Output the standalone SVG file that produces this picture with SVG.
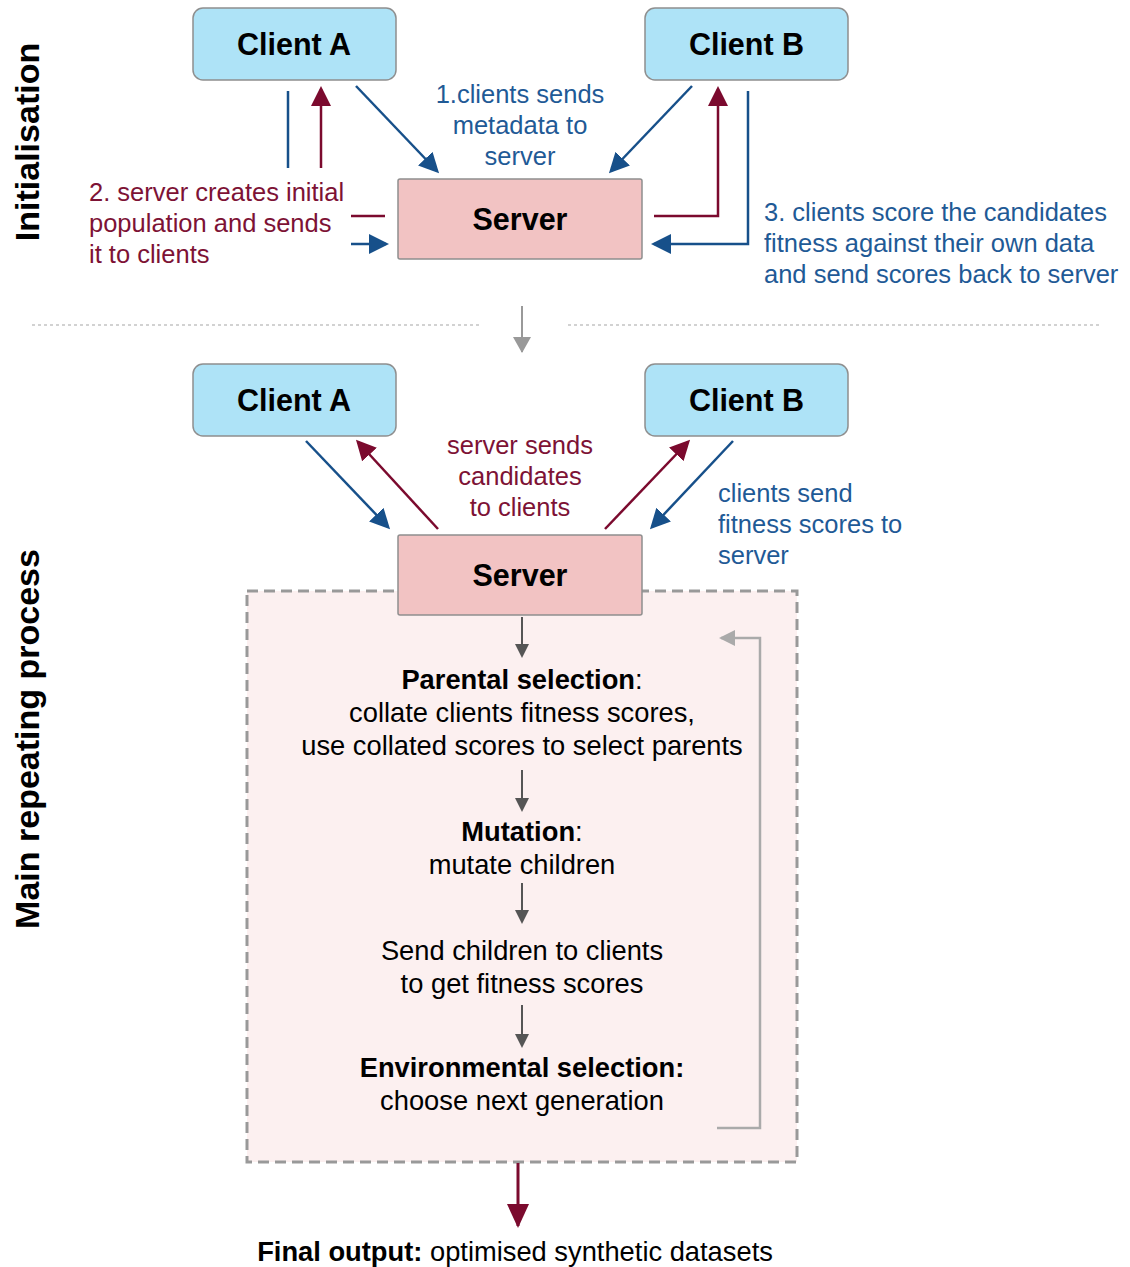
<svg xmlns="http://www.w3.org/2000/svg" width="1130" height="1267" viewBox="0 0 1130 1267">
<defs>
<style>
text{font-family:"Liberation Sans",Arial,sans-serif}
.client{fill:#aee3f7;stroke:#8f8f8f;stroke-width:1.5}
.server{fill:#f2c3c3;stroke:#8f8f8f;stroke-width:1.5}
.nt{font-size:30.5px;font-weight:bold;fill:#000;text-anchor:middle}
.lb{font-size:25.5px}
.blt{fill:#1f5a96}
.rdt{fill:#7d1235}
.pt{font-size:27.3px;fill:#000;text-anchor:middle}
.b{font-weight:bold}
.side{font-size:34px;font-weight:bold;fill:#000;text-anchor:middle}
.bl{stroke:#17508a;stroke-width:2.5;fill:none}
.rd{stroke:#7b0a2e;stroke-width:2.5;fill:none}
.gy{stroke:#555;stroke-width:2;fill:none}
</style>
<marker id="hb" markerUnits="userSpaceOnUse" markerWidth="20" markerHeight="20" refX="17" refY="10" orient="auto"><path d="M0,0 L20,10 L0,20 z" fill="#17508a"/></marker>
<marker id="hr" markerUnits="userSpaceOnUse" markerWidth="20" markerHeight="20" refX="17" refY="10" orient="auto"><path d="M0,0 L20,10 L0,20 z" fill="#7b0a2e"/></marker>
<marker id="hg" markerUnits="userSpaceOnUse" markerWidth="14" markerHeight="14" refX="12" refY="7" orient="auto"><path d="M0,0 L14,7 L0,14 z" fill="#555"/></marker>
<marker id="hl" markerUnits="userSpaceOnUse" markerWidth="18" markerHeight="18" refX="15" refY="9" orient="auto"><path d="M0,0 L16,9 L0,18 z" fill="#999"/></marker>
<marker id="hl2" markerUnits="userSpaceOnUse" markerWidth="18" markerHeight="18" refX="14" refY="8" orient="auto"><path d="M0,0 L16,8 L0,16 z" fill="#aaa"/></marker>
<marker id="hrb" markerUnits="userSpaceOnUse" markerWidth="24" markerHeight="24" refX="22" refY="11" orient="auto"><path d="M0,0 L24,11 L0,22 z" fill="#7b0a2e"/></marker>
</defs>
<rect width="1130" height="1267" fill="#fff"/>

<!-- side labels -->
<text class="side" transform="translate(39,142) rotate(-90)">Initialisation</text>
<text class="side" transform="translate(39,739) rotate(-90)">Main repeating process</text>

<!-- separator -->
<g id="separator">
<line x1="32" y1="325" x2="482" y2="325" stroke="#c4c4c4" stroke-width="1.5" stroke-dasharray="3,3"/>
<line x1="568" y1="325" x2="1100" y2="325" stroke="#c4c4c4" stroke-width="1.5" stroke-dasharray="3,3"/>
</g>

<!-- loop container -->
<g id="loop-box">
<rect x="247" y="591" width="550" height="571" fill="#fcf0f0" stroke="#999" stroke-width="3" stroke-dasharray="11,6"/>
</g>

<g id="connectors">
<!-- init -->
<line class="bl" x1="356" y1="86" x2="437" y2="171" marker-end="url(#hb)"/>
<line class="bl" x1="692" y1="86" x2="611" y2="171" marker-end="url(#hb)"/>
<line class="bl" x1="288" y1="91" x2="288" y2="168"/>
<line class="rd" x1="321" y1="168" x2="321" y2="89" marker-end="url(#hr)"/>
<line class="rd" x1="351" y1="216" x2="385" y2="216"/>
<line class="bl" x1="351" y1="244" x2="386" y2="244" marker-end="url(#hb)"/>
<path class="rd" d="M654,216 H718 V89" marker-end="url(#hr)"/>
<path class="bl" d="M748,91 V244 H654" marker-end="url(#hb)"/>
<!-- transition -->
<line x1="522" y1="306" x2="522" y2="352" stroke="#999" stroke-width="2" marker-end="url(#hl)"/>
<!-- main -->
<line class="bl" x1="306" y1="441" x2="388" y2="527" marker-end="url(#hb)"/>
<line class="rd" x1="438" y1="529" x2="358" y2="442" marker-end="url(#hr)"/>
<line class="rd" x1="605" y1="529" x2="688" y2="442" marker-end="url(#hr)"/>
<line class="bl" x1="733" y1="441" x2="652" y2="527" marker-end="url(#hb)"/>
<!-- inner flow -->
<line class="gy" x1="522" y1="617" x2="522" y2="656" marker-end="url(#hg)"/>
<line class="gy" x1="522" y1="770" x2="522" y2="810" marker-end="url(#hg)"/>
<line class="gy" x1="522" y1="883" x2="522" y2="922" marker-end="url(#hg)"/>
<line class="gy" x1="522" y1="1005" x2="522" y2="1046" marker-end="url(#hg)"/>
<path d="M717,1128 H760 V638 H721" stroke="#aaa" stroke-width="2.5" fill="none" marker-end="url(#hl2)"/>
<line x1="518" y1="1163" x2="518" y2="1226" stroke="#7b0a2e" stroke-width="3" marker-end="url(#hrb)"/>
</g>

<!-- init nodes -->
<g id="clientA1"><rect class="client" x="193" y="8" width="203" height="72" rx="10"/><text class="nt" x="294" y="55">Client A</text></g>
<g id="clientB1"><rect class="client" x="645" y="8" width="203" height="72" rx="10"/><text class="nt" x="746.5" y="55">Client B</text></g>
<g id="server1"><rect class="server" x="398" y="179" width="244" height="80" rx="2"/><text class="nt" x="520" y="230">Server</text></g>

<!-- main nodes -->
<g id="clientA2"><rect class="client" x="193" y="364" width="203" height="72" rx="10"/><text class="nt" x="294" y="411">Client A</text></g>
<g id="clientB2"><rect class="client" x="645" y="364" width="203" height="72" rx="10"/><text class="nt" x="746.5" y="411">Client B</text></g>
<g id="server2"><rect class="server" x="398" y="535" width="244" height="80" rx="2"/><text class="nt" x="520" y="586">Server</text></g>

<!-- labels -->
<g id="label1"><text class="lb blt" text-anchor="middle"><tspan x="520" y="103">1.clients sends</tspan><tspan x="520" y="134">metadata to</tspan><tspan x="520" y="165">server</tspan></text></g>
<g id="label2"><text class="lb rdt"><tspan x="89" y="201">2. server creates initial</tspan><tspan x="89" y="232">population and sends</tspan><tspan x="89" y="263">it to clients</tspan></text></g>
<g id="label3"><text class="lb blt"><tspan x="764" y="221">3. clients score the candidates</tspan><tspan x="764" y="252">fitness against their own data</tspan><tspan x="764" y="283">and send scores back to server</tspan></text></g>
<g id="label4"><text class="lb rdt" text-anchor="middle"><tspan x="520" y="454">server sends</tspan><tspan x="520" y="485">candidates</tspan><tspan x="520" y="516">to clients</tspan></text></g>
<g id="label5"><text class="lb blt"><tspan x="718" y="502">clients send</tspan><tspan x="718" y="533">fitness scores to</tspan><tspan x="718" y="564">server</tspan></text></g>

<!-- process steps -->
<g id="parental"><text class="pt"><tspan x="522" y="689"><tspan class="b">Parental selection</tspan>:</tspan><tspan x="522" y="722">collate clients fitness scores,</tspan><tspan x="522" y="755">use collated scores to select parents</tspan></text></g>
<g id="mutation"><text class="pt"><tspan x="522" y="841"><tspan class="b">Mutation</tspan>:</tspan><tspan x="522" y="874">mutate children</tspan></text></g>
<g id="send"><text class="pt"><tspan x="522" y="960">Send children to clients</tspan><tspan x="522" y="993">to get fitness scores</tspan></text></g>
<g id="environmental"><text class="pt"><tspan x="522" y="1077" class="b">Environmental selection:</tspan><tspan x="522" y="1110">choose next generation</tspan></text></g>
<g id="final"><text class="pt" x="515" y="1261"><tspan class="b">Final output:</tspan> optimised synthetic datasets</text></g>
</svg>
